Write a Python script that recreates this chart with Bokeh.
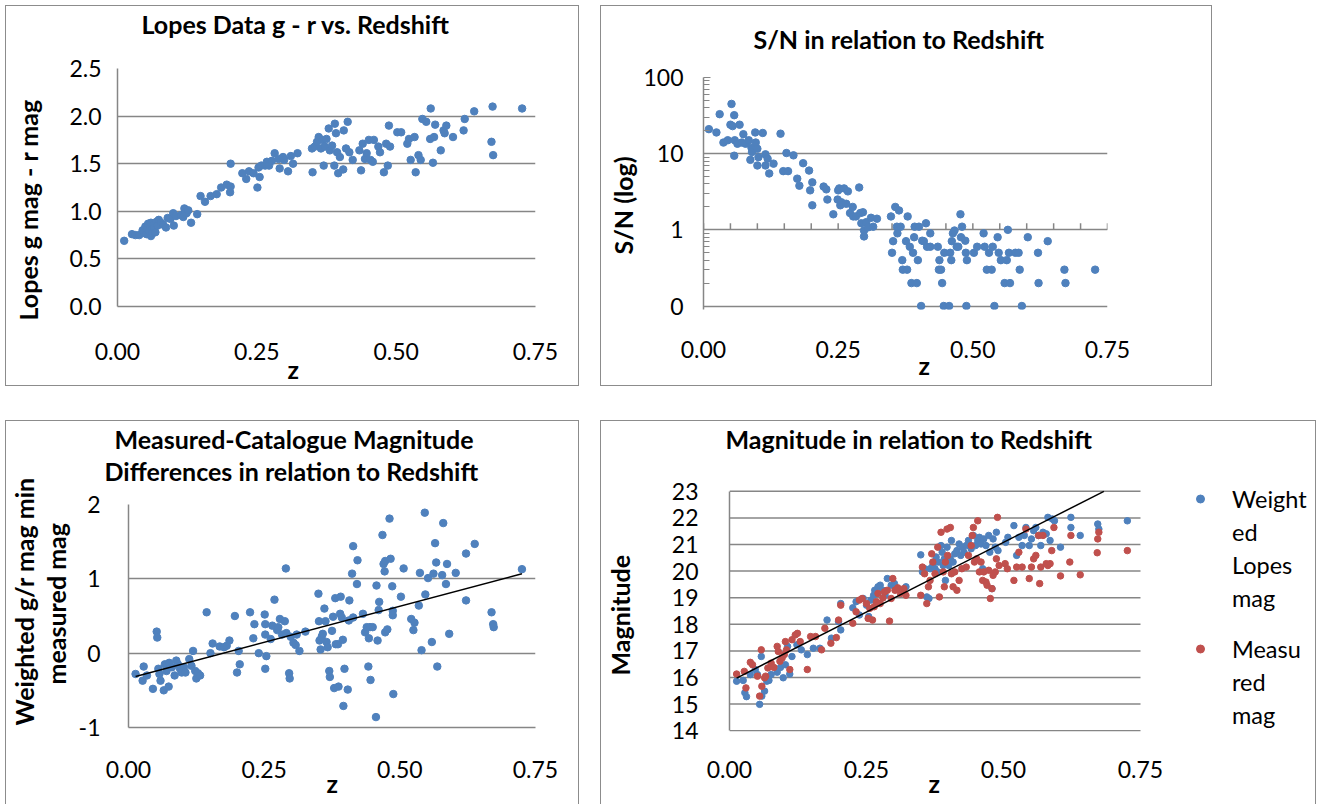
import numpy as np
from bokeh.plotting import figure
from bokeh.layouts import column, row, Spacer
from bokeh.models import Range1d, FixedTicker, Legend, LegendItem, NumeralTickFormatter, Title
from bokeh.embed import file_html
from bokeh.resources import INLINE

# ---------------- data ----------------
x_ticks = [0.0, 0.25, 0.5, 0.75]

# Panel 1: Lopes g-r vs z
z1 = [0.012, 0.026, 0.032, 0.039, 0.045, 0.048, 0.050, 0.052, 0.054, 0.055,
      0.057, 0.058, 0.060, 0.060, 0.062, 0.063, 0.065, 0.066, 0.068, 0.070,
      0.072, 0.074, 0.078, 0.082, 0.087, 0.090, 0.095, 0.100, 0.101, 0.105,
      0.114, 0.118, 0.120, 0.122, 0.124, 0.127, 0.132, 0.143, 0.149, 0.157,
      0.167, 0.178, 0.186, 0.196, 0.202, 0.203, 0.203, 0.224, 0.231, 0.236,
      0.244, 0.251, 0.253, 0.255, 0.258, 0.265, 0.268, 0.272, 0.277, 0.282,
      0.289, 0.291, 0.297, 0.299, 0.306, 0.311, 0.315, 0.323, 0.350, 0.349,
      0.354, 0.358, 0.361, 0.365, 0.368, 0.372, 0.370, 0.375, 0.379, 0.381,
      0.385, 0.390, 0.389, 0.392, 0.394, 0.396, 0.399, 0.405, 0.406, 0.410,
      0.413, 0.416, 0.422, 0.434, 0.437, 0.440, 0.444, 0.447, 0.451, 0.454,
      0.458, 0.460, 0.468, 0.471, 0.478, 0.482, 0.485, 0.487, 0.489, 0.502,
      0.509, 0.520, 0.523, 0.526, 0.533, 0.535, 0.540, 0.544, 0.547, 0.554,
      0.561, 0.562, 0.566, 0.568, 0.570, 0.580, 0.585, 0.587, 0.590, 0.602,
      0.621, 0.623, 0.640, 0.671, 0.673, 0.674, 0.726]
gr1 = [0.69, 0.76, 0.75, 0.75, 0.80, 0.78, 0.84, 0.76, 0.82, 0.87,
       0.79, 0.85, 0.74, 0.88, 0.81, 0.77, 0.86, 0.83, 0.78, 0.89,
       0.85, 0.91, 0.88, 0.86, 0.83, 0.93, 0.92, 0.98, 0.85, 0.95,
       0.96, 0.94, 1.03, 0.99, 0.98, 1.01, 0.88, 0.97, 1.16, 1.10,
       1.16, 1.18, 1.25, 1.28, 1.20, 1.50, 1.26, 1.40, 1.34, 1.42,
       1.40, 1.25, 1.46, 1.36, 1.48, 1.48, 1.52, 1.48, 1.53, 1.61,
       1.55, 1.45, 1.57, 1.54, 1.42, 1.58, 1.50, 1.61, 1.41, 1.66,
       1.68, 1.73, 1.78, 1.66, 1.75, 1.68, 1.48, 1.76, 1.87, 1.64,
       1.69, 1.92, 1.48, 1.82, 1.62, 1.40, 1.57, 1.44, 1.85, 1.66,
       1.94, 1.62, 1.54, 1.64, 1.43, 1.71, 1.55, 1.61, 1.75, 1.54,
       1.52, 1.75, 1.68, 1.62, 1.41, 1.71, 1.48, 1.90, 1.68, 1.83,
       1.83, 1.71, 1.76, 1.54, 1.78, 1.41, 1.59, 1.54, 1.97, 1.94,
       1.76, 2.08, 1.51, 1.78, 1.91, 1.64, 1.85, 1.82, 1.90, 1.78,
       1.85, 1.97, 2.05, 1.73, 2.10, 1.59, 2.08]

# Panel 2: S/N vs z (log axis)
z2 = [0.010, 0.024, 0.030, 0.037, 0.045, 0.052, 0.050, 0.054, 0.057, 0.057,
      0.058, 0.063, 0.067, 0.071, 0.074, 0.078, 0.084, 0.087, 0.089, 0.090,
      0.096, 0.097, 0.100, 0.100, 0.102, 0.110, 0.115, 0.115, 0.119, 0.122,
      0.130, 0.143, 0.148, 0.154, 0.157, 0.167, 0.174, 0.178, 0.185, 0.196,
      0.198, 0.202, 0.202, 0.223, 0.228, 0.230, 0.241, 0.249, 0.250, 0.252,
      0.254, 0.256, 0.261, 0.265, 0.268, 0.272, 0.277, 0.278, 0.283, 0.289,
      0.291, 0.293, 0.296, 0.298, 0.298, 0.302, 0.306, 0.311, 0.315, 0.322,
      0.348, 0.350, 0.352, 0.356, 0.359, 0.360, 0.363, 0.366, 0.369, 0.370,
      0.376, 0.378, 0.379, 0.383, 0.386, 0.389, 0.391, 0.392, 0.396, 0.398,
      0.400, 0.404, 0.406, 0.409, 0.413, 0.415, 0.421, 0.421, 0.435, 0.437,
      0.438, 0.441, 0.443, 0.446, 0.447, 0.456, 0.458, 0.460, 0.461, 0.463,
      0.466, 0.470, 0.473, 0.477, 0.478, 0.480, 0.486, 0.487, 0.488, 0.489,
      0.502, 0.508, 0.520, 0.522, 0.526, 0.530, 0.535, 0.537, 0.540, 0.546,
      0.548, 0.552, 0.559, 0.563, 0.565, 0.567, 0.569, 0.579, 0.585, 0.587,
      0.591, 0.602, 0.621, 0.622, 0.639, 0.670, 0.672, 0.727]
sn2 = [21, 19, 33, 14, 15, 45, 24, 23, 32, 9.4,
       15, 13.5, 24, 14, 18, 13.5, 15, 8.3, 12, 10.5,
       19, 14, 11.6, 7, 9, 18.7, 9.8, 7, 8.6, 5.5,
       7.4, 18.3, 5.9, 10.2, 5.9, 9.5, 4.7, 3.8, 7.5, 6.0,
       3.3, 4.2, 2.1, 3.7, 3.4, 2.5, 1.6, 2.5, 3.3, 3.5,
       2.1, 2.3, 3.5, 2.2, 3.2, 1.66, 2.0, 1.5, 1.5, 3.6,
       1.66, 1.22, 1.7, 0.98, 0.82, 1.26, 1.08, 1.44, 1.1, 1.4,
       1.5, 0.5, 0.71, 2.0, 1.1, 0.9, 1.8, 1.1, 0.4, 0.3,
       0.71, 0.3, 1.5, 0.6, 0.2, 0.5, 0.8, 1.1, 0.2, 0.4,
       1.1, 0.1, 0.72, 0.71, 1.22, 0.6, 0.9, 0.6, 0.6, 0.3,
       0.4, 0.3, 0.2, 0.1, 0.5, 0.1, 0.5, 0.4, 0.71, 0.9,
       0.98, 0.6, 0.6, 1.6, 0.8, 1.1, 0.72, 0.5, 0.1, 0.4,
       0.5, 0.6, 0.9, 0.6, 0.3, 0.5, 0.3, 0.6, 0.1, 0.8,
       0.5, 0.4, 0.2, 0.4, 1.0, 0.5, 0.2, 0.5, 0.5, 0.3,
       0.1, 0.8, 0.5, 0.2, 0.71, 0.3, 0.2, 0.3]
sn_ticks = [0.1, 1, 10, 100]
sn_tick_labels = ["0", "1", "10", "100"]

# Panel 3: measured - catalogue magnitude differences vs z
z3 = [0.013, 0.026, 0.028, 0.034, 0.045, 0.052, 0.053, 0.055, 0.057, 0.059,
      0.065, 0.067, 0.070, 0.074, 0.075, 0.080, 0.085, 0.088, 0.091, 0.095,
      0.098, 0.102, 0.105, 0.112, 0.116, 0.119, 0.123, 0.125, 0.128, 0.132,
      0.144, 0.151, 0.155, 0.168, 0.176, 0.181, 0.186, 0.196, 0.200, 0.203,
      0.205, 0.224, 0.230, 0.232, 0.240, 0.251, 0.252, 0.252, 0.252, 0.254,
      0.262, 0.265, 0.269, 0.274, 0.276, 0.279, 0.283, 0.288, 0.290, 0.291,
      0.296, 0.297, 0.299, 0.304, 0.308, 0.310, 0.315, 0.326, 0.350, 0.351,
      0.352, 0.354, 0.356, 0.358, 0.361, 0.363, 0.365, 0.367, 0.370, 0.371,
      0.375, 0.377, 0.379, 0.381, 0.382, 0.386, 0.387, 0.390, 0.391, 0.393,
      0.395, 0.396, 0.398, 0.404, 0.406, 0.407, 0.412, 0.414, 0.414, 0.421,
      0.422, 0.432, 0.436, 0.439, 0.442, 0.443, 0.445, 0.446, 0.450, 0.456,
      0.457, 0.459, 0.461, 0.462, 0.468, 0.470, 0.472, 0.473, 0.473, 0.477,
      0.481, 0.483, 0.486, 0.487, 0.487, 0.488, 0.502, 0.507, 0.521, 0.525,
      0.527, 0.535, 0.537, 0.540, 0.546, 0.547, 0.552, 0.559, 0.562, 0.565,
      0.567, 0.569, 0.578, 0.580, 0.585, 0.587, 0.591, 0.603, 0.622, 0.622,
      0.638, 0.669, 0.672, 0.673, 0.725]
dm3 = [-0.28, -0.37, -0.18, -0.30, -0.48, 0.29, 0.21, -0.21, -0.28, -0.37,
       -0.50, -0.15, -0.24, -0.45, -0.13, -0.19, -0.30, -0.10, -0.15, -0.21,
       -0.26, -0.19, -0.26, -0.08, -0.17, 0.03, -0.24, -0.34, -0.27, -0.30,
       0.55, 0.00, 0.13, 0.09, 0.08, 0.10, 0.17, 0.50, -0.26, 0.03,
       -0.15, 0.55, 0.20, 0.39, 0.00, 0.52, 0.39, 0.25, -0.21, -0.04,
       0.19, 0.37, 0.72, 0.31, 0.35, 0.46, 0.25, 0.43, 1.14, 0.27,
       -0.27, -0.34, 0.22, 0.14, 0.11, 0.25, 0.03, 0.29, 0.80, 0.43,
       0.17, 0.05, 0.22, 0.26, 0.60, 0.43, 0.15, 0.08, -0.24, -0.32,
       0.30, 0.49, -0.47, 0.74, 0.12, 0.12, -0.45, 0.53, 0.76, 0.48,
       0.18, -0.71, -0.21, -0.49, 0.44, 0.71, 1.07, 1.44, 0.48, 0.93,
       1.25, 0.53, 0.28, 0.35, -0.18, 0.20, 0.35, -0.36, 0.35, -0.86,
       0.91, 0.17, 0.58, 0.69, 1.59, 1.20, 1.10, 1.24, 0.28, 0.32,
       1.81, 1.27, 0.90, 0.57, 0.51, -0.55, 0.76, 1.14, 0.46, 0.31,
       0.41, 0.64, 1.08, 0.04, 1.89, 0.79, 1.01, 0.15, 1.07, 1.48,
       1.22, -0.18, 1.05, 1.75, 0.93, 1.20, 0.26, 1.08, 0.71, 1.34,
       1.47, 0.55, 0.39, 0.35, 1.13]

# Panel 4: magnitudes vs z
z4b = [0.013, 0.025, 0.028, 0.031, 0.038, 0.047, 0.051, 0.055, 0.058, 0.059,
       0.064, 0.068, 0.072, 0.076, 0.087, 0.093, 0.098, 0.102, 0.106, 0.110,
       0.114, 0.123, 0.131, 0.142, 0.153, 0.165, 0.178, 0.186, 0.199, 0.203,
       0.203, 0.225, 0.231, 0.237, 0.244, 0.250, 0.254, 0.258, 0.263, 0.265,
       0.271, 0.275, 0.280, 0.284, 0.288, 0.295, 0.301, 0.305, 0.322, 0.349,
       0.352, 0.356, 0.360, 0.364, 0.366, 0.371, 0.375, 0.377, 0.380, 0.381,
       0.386, 0.388, 0.390, 0.392, 0.394, 0.397, 0.400, 0.403, 0.405, 0.408,
       0.411, 0.415, 0.419, 0.422, 0.425, 0.428, 0.432, 0.436, 0.441, 0.445,
       0.449, 0.453, 0.456, 0.459, 0.462, 0.464, 0.468, 0.473, 0.475, 0.479,
       0.481, 0.485, 0.487, 0.490, 0.504, 0.508, 0.519, 0.524, 0.528, 0.534,
       0.538, 0.541, 0.547, 0.551, 0.555, 0.559, 0.564, 0.568, 0.572, 0.578,
       0.581, 0.585, 0.589, 0.593, 0.604, 0.623, 0.623, 0.640, 0.672, 0.674,
       0.726]
mag4b = [15.86, 15.89, 15.43, 15.28, 16.11, 16.30, 16.11, 14.99, 16.79, 15.30,
         15.49, 15.86, 15.89, 16.11, 16.20, 16.38, 15.99, 16.48, 17.17, 16.13,
         16.79, 17.23, 17.04, 16.86, 17.10, 17.10, 18.16, 17.48, 18.10, 18.78,
         17.79, 18.62, 18.85, 18.35, 18.97, 18.72, 18.29, 18.91, 19.09, 19.28,
         19.41, 19.47, 19.28, 19.09, 19.72, 19.47, 19.53, 19.34, 19.41, 20.61,
         19.97, 20.09, 19.03, 18.97, 20.09, 20.21, 20.09, 20.53, 19.97, 20.34,
         20.96, 20.71, 20.21, 20.46, 19.65, 20.90, 20.21, 20.46, 21.15, 20.34,
         20.65, 20.77, 21.02, 20.59, 20.90, 20.71, 20.96, 21.15, 20.84, 21.34,
         20.96, 21.15, 21.27, 21.02, 20.09, 21.21, 20.96, 21.34, 20.71, 19.34,
         21.21, 20.90, 21.46, 20.77, 21.08, 21.27, 21.71, 20.59, 21.27, 20.96,
         21.34, 21.64, 20.96, 21.21, 21.52, 21.64, 21.34, 20.96, 21.46, 21.40,
         22.02, 21.15, 21.96, 21.89, 20.90, 22.02, 21.64, 21.34, 21.77, 21.58,
         21.89]
z4r = [0.013, 0.027, 0.030, 0.038, 0.042, 0.051, 0.055, 0.058, 0.059, 0.064,
       0.066, 0.070, 0.076, 0.081, 0.087, 0.089, 0.092, 0.096, 0.100, 0.102,
       0.104, 0.110, 0.114, 0.120, 0.124, 0.129, 0.142, 0.148, 0.157, 0.168,
       0.174, 0.185, 0.195, 0.199, 0.203, 0.225, 0.231, 0.237, 0.242, 0.250,
       0.253, 0.256, 0.261, 0.264, 0.268, 0.271, 0.275, 0.280, 0.283, 0.288,
       0.292, 0.295, 0.298, 0.302, 0.307, 0.312, 0.318, 0.322, 0.349, 0.352,
       0.356, 0.360, 0.363, 0.366, 0.369, 0.371, 0.375, 0.380, 0.383, 0.386,
       0.390, 0.392, 0.394, 0.397, 0.398, 0.403, 0.405, 0.408, 0.411, 0.415,
       0.419, 0.424, 0.432, 0.436, 0.441, 0.443, 0.445, 0.447, 0.451, 0.453,
       0.456, 0.459, 0.462, 0.464, 0.468, 0.470, 0.473, 0.476, 0.479, 0.481,
       0.485, 0.487, 0.489, 0.492, 0.503, 0.507, 0.519, 0.524, 0.528, 0.534,
       0.541, 0.547, 0.551, 0.555, 0.559, 0.564, 0.566, 0.568, 0.572, 0.578,
       0.581, 0.585, 0.588, 0.592, 0.604, 0.621, 0.623, 0.640, 0.671, 0.672,
       0.674, 0.726]
mag4r = [16.13, 16.23, 15.61, 16.57, 16.48, 16.05, 15.30, 17.04, 15.67, 15.99,
         16.05, 16.36, 16.54, 16.38, 17.17, 16.98, 16.61, 16.73, 16.86, 17.35,
         17.04, 16.30, 17.42, 17.60, 17.66, 17.35, 16.30, 17.54, 17.54, 17.04,
         17.85, 17.29, 17.50, 18.16, 18.72, 18.04, 18.47, 18.91, 18.97, 18.78,
         18.22, 18.60, 18.16, 18.66, 18.85, 19.16, 18.78, 18.99, 19.22, 19.28,
         18.12, 18.97, 19.72, 19.28, 19.37, 19.16, 19.34, 19.09, 19.09, 20.15,
         19.90, 18.78, 19.41, 19.65, 20.65, 20.34, 19.90, 20.90, 19.03, 21.46,
         19.97, 19.41, 20.34, 21.58, 20.59, 21.64, 19.90, 19.41, 19.97, 19.28,
         19.65, 20.09, 20.15, 20.59, 20.96, 21.34, 21.64, 20.34, 20.46, 21.89,
         19.97, 20.34, 19.65, 19.97, 19.59, 19.47, 20.03, 18.97, 19.34, 19.84,
         19.97, 20.46, 22.02, 20.21, 20.28, 20.09, 19.65, 20.15, 20.71, 20.15,
         21.58, 19.72, 20.15, 20.46, 20.59, 21.34, 19.53, 20.15, 21.34, 20.28,
         20.21, 20.28, 20.77, 21.64, 19.82, 20.34, 21.34, 19.86, 20.69, 21.21,
         21.46, 20.77]
mag_ticks = list(range(14, 24))
# legend labels, wrapped as in the original chart
legend_blue_lines = ["Weight", "ed", "Lopes", "mag"]
legend_red_lines = ["Measu", "red", "mag"]

# ---------------- style ----------------
BLUE = "#4F81BD"
RED = "#C0504D"
GRID = "#868686"
BORDER = "#8C8C8C"
FONT = "Lato"
TICK_FS = "23px"
TITLE_FS = "25px"


def make_fig(width, height, left, right, top, bottom, y_range, y_type="linear",
             x_end=0.75, open_bottom=False):
    p = figure(width=width, height=height, output_backend="svg", toolbar_location=None,
               x_range=Range1d(0, x_end), y_range=y_range, y_axis_type=y_type,
               min_border_left=left, min_border_right=right,
               min_border_top=top, min_border_bottom=bottom, title=None)
    st = {"border": f"1px solid {BORDER}"}
    if open_bottom:
        st["border-bottom"] = "none"
    p.styles = st
    p.outline_line_color = None
    p.background_fill_color = "white"
    p.border_fill_color = "white"
    p.xgrid.visible = False
    p.ygrid.grid_line_color = GRID
    p.ygrid.grid_line_width = 1.5
    p.ygrid.minor_grid_line_color = None
    for ax in (p.xaxis[0], p.yaxis[0]):
        ax.axis_line_color = GRID
        ax.axis_line_width = 1.5
        ax.major_tick_line_color = None
        ax.minor_tick_line_color = None
        ax.major_label_text_font = FONT
        ax.major_label_text_font_size = TICK_FS
        ax.major_label_text_color = "black"
    p.xaxis.ticker = FixedTicker(ticks=x_ticks)
    p.xaxis.formatter = NumeralTickFormatter(format="0.00")
    return p


def gap(p, place, px):
    # an empty title used only as a spacer in a side panel
    p.add_layout(Title(text=" ", text_font_size="1px", standoff=px - 3), place)


def title(p, text, place, standoff, offset):
    p.add_layout(Title(text=text, align="left", offset=offset, standoff=standoff,
                       text_font=FONT, text_font_size=TITLE_FS, text_font_style="bold",
                       text_color="black"), place)


# ---- Panel 1 ---- frame x 117..535, y 68..306
p1 = make_fig(574, 381, 111, 45, 62, 81, Range1d(0, 2.5))
p1.yaxis.ticker = FixedTicker(ticks=[0, 0.5, 1.0, 1.5, 2.0, 2.5])
p1.yaxis.formatter = NumeralTickFormatter(format="0.0")
p1.yaxis.major_label_standoff = 10
p1.xaxis.major_label_standoff = 30
p1.scatter(z1, gr1, size=7.5, color=BLUE)
gap(p1, "above", 30)
title(p1, "Lopes Data g - r vs. Redshift", "above", 0, 24)
title(p1, "z", "below", -21, 170)
gap(p1, "left", 24)
title(p1, "Lopes g mag - r mag", "left", 0, -14)

# ---- Panel 2 ---- frame x 705..1109, y 77..309 (0.1 line at ~305)
p2 = make_fig(612, 381, 102, 106, 71, 78, Range1d(0.09, 100), y_type="log")
minor = [m * d for d in (0.1, 1, 10) for m in range(2, 10)]
p2.yaxis.ticker = FixedTicker(ticks=sn_ticks, minor_ticks=minor)
p2.yaxis.major_label_overrides = dict(zip(sn_ticks, sn_tick_labels))
p2.yaxis.major_tick_line_color = GRID
p2.yaxis.major_tick_in = 7
p2.yaxis.major_tick_out = 0
p2.yaxis.minor_tick_line_color = GRID
p2.yaxis.minor_tick_in = 6
p2.yaxis.minor_tick_out = 0
p2.yaxis.major_label_standoff = 20
p2.xaxis.axis_line_color = None
p2.xaxis.major_label_standoff = 25
# horizontal axis crossing at S/N = 1, with its tick marks
axis_ticks = [i * 0.05 for i in range(16)]
p2.segment(x0=axis_ticks, y0=[1] * 16, x1=axis_ticks, y1=[1.22] * 16, color=GRID, line_width=1.5)
p2.scatter(z2, sn2, size=7.5, color=BLUE)
gap(p2, "above", 24)
title(p2, "S/N  in relation to Redshift", "above", 0, 50)
title(p2, "z", "below", -25, 215)
gap(p2, "left", 3)
title(p2, "S/N (log)", "left", 0, 55)

# ---- Panel 3 ---- frame x 128..535, y 506..729
p3 = make_fig(574, 384, 122, 45, 83, 78, Range1d(-1, 2), open_bottom=True)
p3.yaxis.ticker = FixedTicker(ticks=[-1, 0, 1, 2])
p3.yaxis.formatter = NumeralTickFormatter(format="0")
p3.yaxis.major_label_standoff = 22
p3.xaxis.major_label_standoff = 27
p3.scatter(z3, dm3, size=7.5, color=BLUE)
c3 = np.polyfit(z3, dm3, 1)
zz3 = np.array([min(z3), max(z3)])
p3.line(zz3, np.polyval(c3, zz3), color="black", line_width=1.5)
gap(p3, "above", 19)
title(p3, "Differences  in relation to Redshift", "above", 0, -24)
title(p3, "Measured-Catalogue Magnitude", "above", 0, -14)
title(p3, "z", "below", -30, 198)
gap(p3, "left", 5)
title(p3, "measured mag", "left", 0, 43)
title(p3, "Weighted g/r mag min", "left", 0, 2)

# ---- Panel 4 ---- plot area x 731..1142, y 492..733 for z 0..0.75, mag 14..23;
# the frame is extended to the right and upwards to give room for the legend
P4_LEFT, P4_RIGHT, P4_TOP, P4_BOTTOM = 128, 0, 57, 74
p4_w, p4_h = 716 - P4_LEFT - P4_RIGHT, 384 - P4_TOP - P4_BOTTOM
px_per_mag = 241 / 9.06
p4 = make_fig(716, 384, P4_LEFT, P4_RIGHT, P4_TOP, P4_BOTTOM,
              Range1d(13.97, 13.97 + p4_h / px_per_mag),
              x_end=0.75 * p4_w / 411, open_bottom=True)
p4.ygrid.visible = False
p4.xaxis.axis_line_color = None
p4.yaxis.bounds = (mag_ticks[0], mag_ticks[-1])
p4.yaxis.ticker = FixedTicker(ticks=mag_ticks)
p4.yaxis.formatter = NumeralTickFormatter(format="0")
p4.yaxis.major_label_standoff = 25
p4.xaxis.major_label_standoff = 23
# horizontal gridlines only across the z range 0 .. 0.75
p4.segment(x0=[x_ticks[0]] * len(mag_ticks), y0=mag_ticks, x1=[x_ticks[-1]] * len(mag_ticks),
           y1=mag_ticks, color=GRID, line_width=1.5)
rb = p4.scatter(z4b, mag4b, size=6.5, color=BLUE)
rr = p4.scatter(z4r, mag4r, size=6.5, color=RED)
c4 = np.polyfit(z4b, mag4b, 1)
z_top = (mag_ticks[-1] - c4[1]) / c4[0]       # where the fit leaves the plot area
zz4 = np.array([min(z4b), min(max(z4b), z_top)])
p4.line(zz4, np.polyval(c4, zz4), color="black", line_width=1.5)
gap(p4, "above", 25)
title(p4, "Magnitude  in relation to Redshift", "above", 0, -4)
title(p4, "z", "below", -29, 199)
gap(p4, "left", 34)
title(p4, "Magnitude", "left", 0, 56)

# legend: marker beside the first line of each wrapped label, as in the original
blank = p4.scatter(x=[], y=[], size=6.5, alpha=0)


def wrapped_legend(lines, renderer, y):
    items = [LegendItem(label=lines[0], renderers=[renderer])]
    items += [LegendItem(label=t, renderers=[blank]) for t in lines[1:]]
    lg = Legend(items=items, location=(461, y), spacing=0, padding=0, margin=0,
                border_line_color=None, background_fill_alpha=0,
                label_text_font=FONT, label_text_font_size="23.5px", label_text_color="black",
                label_standoff=22, glyph_width=20, glyph_height=33, label_height=33)
    p4.add_layout(lg, "center")


wrapped_legend(legend_blue_lines, rb, 117)
wrapped_legend(legend_red_lines, rr, 0)

layout = column(
    Spacer(height=5),
    row(Spacer(width=5), column(p1), Spacer(width=21), column(p2)),
    Spacer(height=34),
    row(Spacer(width=5), column(p3), Spacer(width=21), column(p4)),
)

open("out.html", "w").write(file_html(layout, INLINE))
